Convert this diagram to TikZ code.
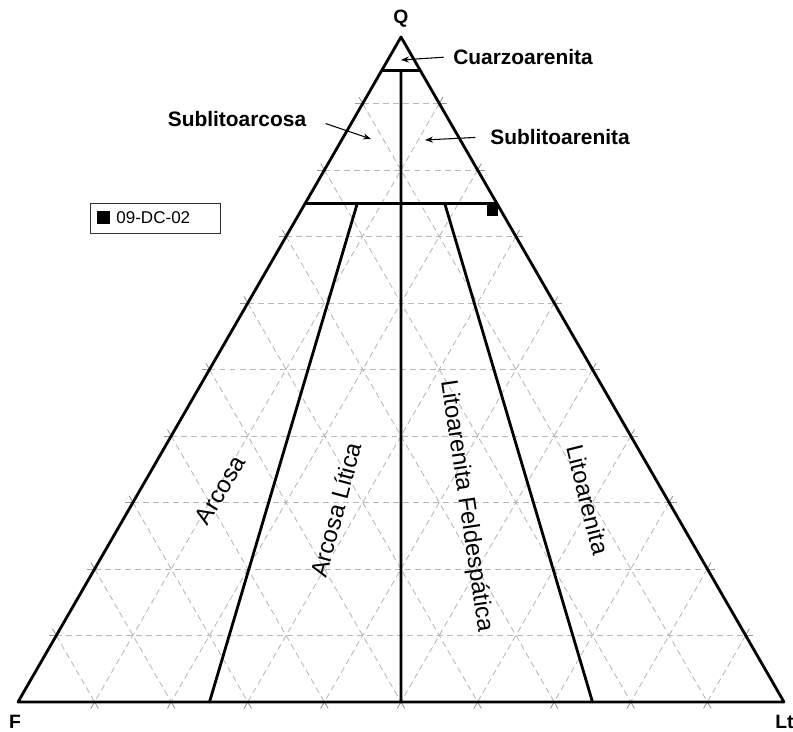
\documentclass[tikz,border=0pt]{standalone}
\usepackage{fontspec}
\setmainfont{Liberation Sans}
\usetikzlibrary{calc,arrows.meta}
\tikzset{
	bound/.style={line width=1.6pt, line cap=round, line join=round},
	gridline/.style={draw=black!28, line width=0.5pt, dash pattern=on 3.4pt off 2.3pt},
	tickline/.style={draw=black!40, line width=0.5pt},
	pointer/.style={->, >={Stealth[length=4.5pt,width=3.4pt]}, line width=0.6pt},
	corner/.style={font=\bfseries\fontsize{11}{13}\selectfont},
	namelbl/.style={font=\bfseries\fontsize{11.9}{14}\selectfont},
	field/.style={font=\fontsize{13.6}{16}\selectfont},
	sample/.style={fill=black, inner sep=0pt},
}

\begin{document}
\begin{tikzpicture}[x=0.02cm, y=-0.02cm]
	\useasboundingbox (0,0) rectangle (793,732);
	\coordinate (Q) at (401,37);
	\coordinate (F) at (18,702);
	\coordinate (Lt) at (784,702);

	\foreach \k in {1,...,9} {
		\pgfmathtruncatemacro{\j}{10-\k}
		\foreach \wa/\wb/\wc/\wd/\we/\wf in {\k/\j/0/\k/0/\j, \j/\k/0/0/\k/\j, \j/0/\k/0/\j/\k} {
			\coordinate (ga) at (barycentric cs:Q=\wa,F=\wb,Lt=\wc);
			\coordinate (gb) at (barycentric cs:Q=\wd,F=\we,Lt=\wf);
			\draw [gridline] (ga) -- (gb);
			\draw [tickline] (ga) -- ($(ga)!-0.15cm!(gb)$);
			\draw [tickline] (gb) -- ($(gb)!-0.15cm!(ga)$);
		}
	}

	\coordinate (q95l) at (barycentric cs:Q=0.95,F=0.05,Lt=0);
	\coordinate (q95r) at (barycentric cs:Q=0.95,F=0,Lt=0.05);
	\coordinate (q95m) at (barycentric cs:Q=0.95,F=0.025,Lt=0.025);
	\coordinate (q75l) at (barycentric cs:Q=0.75,F=0.25,Lt=0);
	\coordinate (q75r) at (barycentric cs:Q=0.75,F=0,Lt=0.25);
	\coordinate (fl) at (barycentric cs:Q=0.75,F=0.182,Lt=0.068);
	\coordinate (lf) at (barycentric cs:Q=0.75,F=0.068,Lt=0.182);
	\coordinate (base25) at (barycentric cs:Q=0,F=0.75,Lt=0.25);
	\coordinate (base50) at (barycentric cs:Q=0,F=0.5,Lt=0.5);
	\coordinate (base75) at (barycentric cs:Q=0,F=0.25,Lt=0.75);

	\draw [bound] (Q) -- (F) -- (Lt) -- cycle;
	\draw [bound] (q95l) -- (q95r);
	\draw [bound] (q75l) -- (q75r);
	\draw [bound] (q95m) -- (base50);
	\draw [bound] (fl) -- (base25);
	\draw [bound] (lf) -- (base75);

	\node [corner] (qlab) at (401,19) {Q};
	\node [corner] (flab) at (15,722) {F};
	\node [corner, anchor=west, inner sep=0pt] (ltlab) at (775,722) {Lt};

	\node [namelbl] (cuarzo) at (523,57) {Cuarzoarenita};
	\node [namelbl] (slarcosa) at (237,119) {Sublitoarcosa};
	\node [namelbl] (slarenita) at (560,137) {Sublitoarenita};
	\coordinate (cuarzo tip) at (401,60);
	\coordinate (slarcosa tip) at (371,139);
	\coordinate (slarenita tip) at (425,140);
	\draw [pointer, shorten <=2pt] (cuarzo.west) to (cuarzo tip);
	\draw [pointer, shorten <=8pt] (slarcosa.east) to (slarcosa tip);
	\draw [pointer, shorten <=5pt] (slarenita.west) to (slarenita tip);

	\node [field, rotate=59] (arcosa) at (220,490) {Arcosa};
	\node [field, rotate=75] (arcosalit) at (336,510) {Arcosa Lítica};
	\node [field, rotate=-81.5] (litofeld) at (466,506) {Litoarenita Feldespática};
	\node [field, rotate=-76] (litoar) at (588,500) {Litoarenita};

	\node [draw=black!80, line width=0.8pt, minimum width=2.6cm, minimum height=0.6cm, anchor=north west] (legend) at (90,203) {};
	\node [sample, minimum size=0.26cm] (legmark) at (103.5,218) {};
	\node [anchor=west, inner sep=0pt, font=\fontsize{9.7}{11}\selectfont] (legtext) at (116,218) {09-DC-02};
	\node [sample, minimum size=0.22cm] (pt0902) at (492.5,210.5) {};
\end{tikzpicture}
\end{document}
